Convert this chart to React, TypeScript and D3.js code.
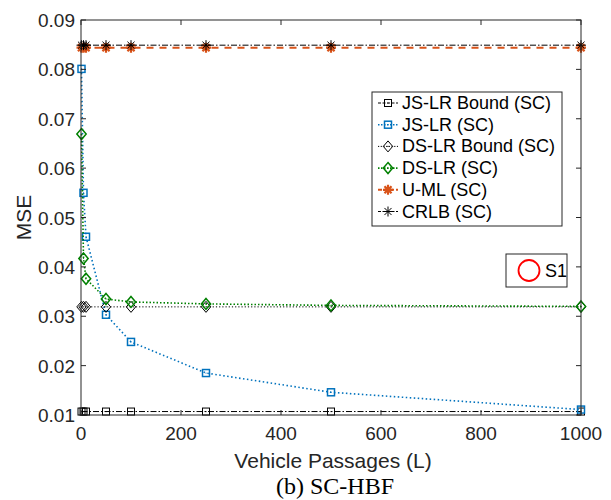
import React from "react";
import * as d3 from "d3";

const passages = [1, 5, 10, 50, 100, 250, 500, 1000];
const jsBound = [0.0107, 0.0107, 0.0107, 0.0107, 0.0107, 0.0107, 0.0107, 0.0107];
const jsLR = [0.0801, 0.0550, 0.0461, 0.0303, 0.0248, 0.0185, 0.0146, 0.0111];
const dsBound = [0.0319, 0.0319, 0.0319, 0.0319, 0.0319, 0.0319, 0.0319, 0.0319];
const dsLR = [0.0669, 0.0417, 0.0376, 0.0335, 0.0329, 0.0325, 0.0322, 0.0320];
const uML = [0.0844, 0.0844, 0.0844, 0.0844, 0.0844, 0.0844, 0.0844, 0.0844];
const crlb = [0.0849, 0.0849, 0.0849, 0.0849, 0.0849, 0.0849, 0.0849, 0.0849];

const xTicks = [0, 200, 400, 600, 800, 1000];
const yTicks = [0.01, 0.02, 0.03, 0.04, 0.05, 0.06, 0.07, 0.08, 0.09];

const seriesNames = ["JS-LR Bound (SC)", "JS-LR (SC)", "DS-LR Bound (SC)", "DS-LR (SC)", "U-ML (SC)", "CRLB (SC)"];

type Style = { color: string; dash: string; width: number; marker: string; mw: number };

const styles: Style[] = [
  { color: "#000000", dash: "6,2,1.5,2", width: 1, marker: "square", mw: 1 },
  { color: "#0072BD", dash: "1.5,2.5", width: 1.6, marker: "square", mw: 1.5 },
  { color: "#000000", dash: "1.2,2", width: 1, marker: "diamond", mw: 1 },
  { color: "#008000", dash: "1.5,2", width: 1.6, marker: "diamond", mw: 1.5 },
  { color: "#D95319", dash: "7,6", width: 2, marker: "star", mw: 2.2 },
  { color: "#000000", dash: "6,2,1.5,2", width: 1, marker: "star", mw: 1 },
];

const seriesData = [jsBound, jsLR, dsBound, dsLR, uML, crlb];

const W = 611, H = 500;
const left = 81, right = 581, top = 20, bottom = 415;

function Marker({ kind, x, y, color, sw }: { kind: string; x: number; y: number; color: string; sw: number }) {
  if (kind === "square") {
    const s = 7;
    return (
      <g>
        <rect x={x - s / 2} y={y - s / 2} width={s} height={s} fill="none" stroke={color} strokeWidth={sw} />
        <circle cx={x} cy={y} r={0.6} fill={color} />
      </g>
    );
  }
  if (kind === "diamond") {
    const r = 5.5;
    return (
      <g>
        <path d={`M${x},${y - r}L${x + r * 0.85},${y}L${x},${y + r}L${x - r * 0.85},${y}Z`} fill="none" stroke={color} strokeWidth={sw} />
        <circle cx={x} cy={y} r={0.6} fill={color} />
      </g>
    );
  }
  const r = 5;
  const d = r * 0.707;
  return (
    <path
      d={`M${x - r},${y}L${x + r},${y}M${x},${y - r}L${x},${y + r}M${x - d},${y - d}L${x + d},${y + d}M${x - d},${y + d}L${x + d},${y - d}`}
      stroke={color}
      strokeWidth={sw}
      fill="none"
    />
  );
}

export default function App() {
  const x = d3.scaleLinear().domain([0, 1000]).range([left, right]);
  const y = d3.scaleLinear().domain([0.01, 0.09]).range([bottom, top]);
  const axisColor = "#262626";
  const font = "'Liberation Sans', Arial, Helvetica, sans-serif";

  const legX = 372, legY = 92, legW = 190, legH = 134;
  const rowH = 21.7;
  const yMid = (top + bottom) / 2;

  return (
    <svg width={W} height={H} style={{ position: "absolute", left: 0, top: 0 }} fontFamily={font}>
      <rect x={0} y={0} width={W} height={H} fill="#ffffff" />
      {/* data */}
      <g>
        {seriesData.map((vals, i) => {
          const st = styles[i];
          const line = d3
            .line<number>()
            .x((_, j) => x(passages[j]))
            .y((v) => y(v));
          return (
            <g key={i}>
              <path d={line(vals) || ""} fill="none" stroke={st.color} strokeWidth={st.width} strokeDasharray={st.dash} />
              {vals.map((v, j) => (
                <Marker key={j} kind={st.marker} x={x(passages[j])} y={y(v)} color={st.color} sw={st.mw} />
              ))}
            </g>
          );
        })}
      </g>
      {/* axes box */}
      <rect x={left} y={top} width={right - left} height={bottom - top} fill="none" stroke={axisColor} strokeWidth={1} />
      {xTicks.map((t) => (
        <g key={"x" + t}>
          <line x1={x(t)} x2={x(t)} y1={bottom} y2={bottom - 5} stroke={axisColor} />
          <line x1={x(t)} x2={x(t)} y1={top} y2={top + 5} stroke={axisColor} />
          <text x={x(t)} y={440} textAnchor="middle" fontSize={19} fill={axisColor}>
            {t}
          </text>
        </g>
      ))}
      {yTicks.map((t) => (
        <g key={"y" + t}>
          <line x1={left} x2={left + 5} y1={y(t)} y2={y(t)} stroke={axisColor} />
          <line x1={right} x2={right - 5} y1={y(t)} y2={y(t)} stroke={axisColor} />
          <text x={75} y={y(t) + 7} textAnchor="end" fontSize={19} fill={axisColor}>
            {t.toFixed(2)}
          </text>
        </g>
      ))}
      <text x={333} y={468} textAnchor="middle" fontSize={21} fill={axisColor}>
        Vehicle Passages (L)
      </text>
      <text x={31} y={yMid} textAnchor="middle" fontSize={21} fill={axisColor} transform={`rotate(-90,31,${yMid})`}>
        MSE
      </text>
      <text x={335} y={494} textAnchor="middle" fontSize={24} fontFamily="'Liberation Serif', 'Times New Roman', serif" fill="#000">
        (b) SC-HBF
      </text>
      {/* legend */}
      <rect x={legX} y={legY} width={legW} height={legH} fill="#ffffff" stroke={axisColor} strokeWidth={1} />
      {seriesNames.map((name, i) => {
        const st = styles[i];
        const cy = legY + 11 + i * rowH;
        return (
          <g key={name}>
            <line x1={legX + 6} x2={legX + 26} y1={cy} y2={cy} stroke={st.color} strokeWidth={st.width} strokeDasharray={i === 4 ? "4,2" : i === 1 || i === 3 ? "1.5,1.5" : i === 2 ? "1.2,1.5" : "3,1.5"} />
            <Marker kind={st.marker} x={legX + 16} y={cy} color={st.color} sw={st.mw} />
            <text x={legX + 30} y={cy + 6} fontSize={18} fill="#000">
              {name}
            </text>
          </g>
        );
      })}
      <rect x={506} y={254} width={61} height={33} fill="#ffffff" stroke={axisColor} strokeWidth={1} />
      <circle cx={529} cy={270.5} r={10.5} fill="none" stroke="#ff0000" strokeWidth={1.8} />
      <text x={545} y={277} fontSize={18} fill="#000">
        S1
      </text>
    </svg>
  );
}
